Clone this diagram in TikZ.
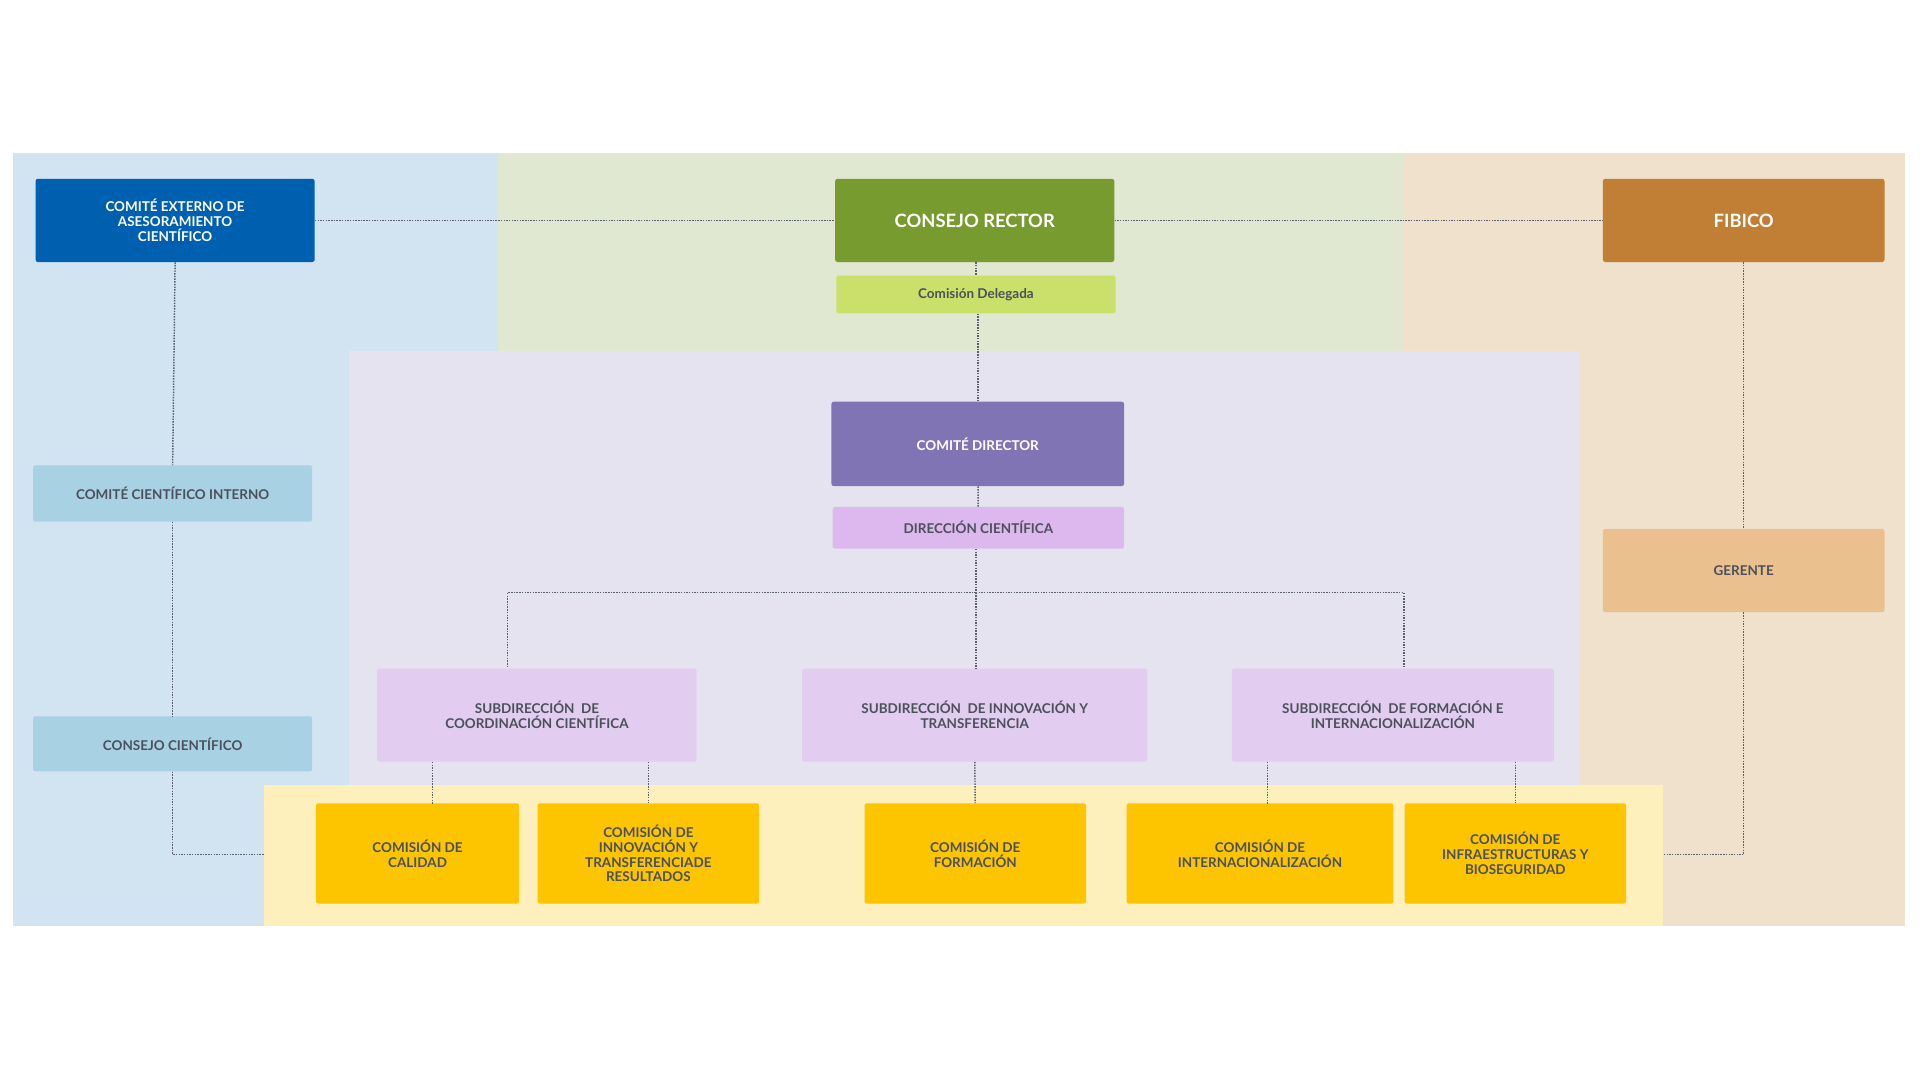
\documentclass[tikz,border=0pt]{standalone}
\usepackage{fontspec}
\setmainfont{Lato}
\definecolor{txtgray}{HTML}{4B505C}
\definecolor{lnk}{HTML}{5A6070}
\definecolor{bgblue}{HTML}{D2E3F1}
\definecolor{bggreen}{HTML}{E1E8D2}
\definecolor{bgbeige}{HTML}{F0E1CC}
\definecolor{bglav}{HTML}{E6E3F0}
\definecolor{bgyel}{HTML}{FDF0BD}
\definecolor{cblue}{HTML}{0060B0}
\definecolor{cgreen}{HTML}{779B2E}
\definecolor{clime}{HTML}{CBE06B}
\definecolor{cbrown}{HTML}{C17F36}
\definecolor{cpurple}{HTML}{8074B4}
\definecolor{cpink}{HTML}{DDB8EE}
\definecolor{clight}{HTML}{A8D2E4}
\definecolor{csand}{HTML}{E9C08E}
\definecolor{csub}{HTML}{E2CCF0}
\definecolor{cyel}{HTML}{FCC500}
\begin{document}
\begin{tikzpicture}[x=1pt,y=-1pt,text centered,
  box/.style={rounded corners=2pt,inner sep=0pt,align=center,font=\bfseries\fontsize{11}{12}\selectfont,text=txtgray},
  link/.style={draw=lnk,densely dotted,line width=1.2pt}]
  \useasboundingbox (0,0) rectangle (1568,882);
  \fill[white] (0,0) rectangle (1568,882);

  % background bands
  \fill[bgblue] (11,125) rectangle (407,287);
  \fill[bggreen] (407,125) rectangle (1146,287);
  \fill[bgbeige] (1146,125) rectangle (1556,287);
  \fill[bgblue] (11,287) rectangle (285,641);
  \fill[bglav] (285,287) rectangle (1290,641);
  \fill[bgbeige] (1290,287) rectangle (1556,641);
  \fill[bgblue] (11,641) rectangle (216,756);
  \fill[bgyel] (216,641) rectangle (1358,756);
  \fill[bgbeige] (1358,641) rectangle (1556,756);

  % top row
  \node (ceac) [box,fill=cblue,text=white,minimum width=228,minimum height=68] at (143,180) {COMITÉ EXTERNO DE\\ASESORAMIENTO\\CIENTÍFICO};
  \node (rector) [box,fill=cgreen,text=white,minimum width=228,minimum height=68,font=\bfseries\fontsize{15}{16}\selectfont] at (796,180) {CONSEJO RECTOR};
  \node (delegada) [box,fill=clime,minimum width=228,minimum height=31] at (797,240.5) {Comisión Delegada};
  \node (fibico) [box,fill=cbrown,text=white,minimum width=230,minimum height=68,font=\bfseries\fontsize{15}{16}\selectfont] at (1424,180) {FIBICO};

  % middle row
  \node (director) [box,fill=cpurple,text=white,minimum width=239,minimum height=69] at (798.5,362.5) {COMITÉ DIRECTOR};
  \node (direccion) [box,fill=cpink,minimum width=238,minimum height=34] at (799,431) {DIRECCIÓN CIENTÍFICA};
  \node (interno) [box,fill=clight,minimum width=228,minimum height=46] at (141,403) {COMITÉ CIENTÍFICO INTERNO};
  \node (consejo) [box,fill=clight,minimum width=228,minimum height=45] at (141,607.5) {CONSEJO CIENTÍFICO};
  \node (gerente) [box,fill=csand,minimum width=230,minimum height=68] at (1424,466) {GERENTE};
  \node (subcoord) [box,fill=csub,minimum width=261,minimum height=76] at (438.5,584) {SUBDIRECCIÓN\ \ DE\\COORDINACIÓN CIENTÍFICA};
  \node (subinnov) [box,fill=csub,minimum width=282,minimum height=76] at (796,584) {SUBDIRECCIÓN\ \ DE INNOVACIÓN Y\\TRANSFERENCIA};
  \node (subform) [box,fill=csub,minimum width=263,minimum height=76] at (1137.5,584) {SUBDIRECCIÓN\ \ DE FORMACIÓN E\\INTERNACIONALIZACIÓN};

  % commissions
  \node (calidad) [box,fill=cyel,minimum width=166,minimum height=82] at (341,697) {COMISIÓN DE\\CALIDAD};
  \node (innov) [box,fill=cyel,minimum width=181,minimum height=82] at (529.5,697) {COMISIÓN DE\\INNOVACIÓN Y\\TRANSFERENCIADE\\RESULTADOS};
  \node (formacion) [box,fill=cyel,minimum width=181,minimum height=82] at (796.5,697) {COMISIÓN DE\\FORMACIÓN};
  \node (internac) [box,fill=cyel,minimum width=218,minimum height=82] at (1029,697) {COMISIÓN DE\\INTERNACIONALIZACIÓN};
  \node (infra) [box,fill=cyel,minimum width=181,minimum height=82] at (1237.5,697) {COMISIÓN DE\\INFRAESTRUCTURAS Y\\BIOSEGURIDAD};

  \coordinate (leftend) at (216,698);
  \coordinate (rightend) at (1358,698);
  \coordinate (bus) at (797,484);

  % connectors
  \draw[link] (ceac) -- (rector);
  \draw[link] (rector) -- (fibico);
  \draw[link] (ceac.south) -- (interno.north);
  \draw[link] (interno) -- (consejo);
  \draw[link] (consejo.south) |- (leftend);
  \draw[link] (rector.south -| delegada.north) -- (delegada.north);
  \draw[link] (delegada.south -| director.north) -- (director.north);
  \draw[link] (director) -- (direccion);
  \draw[link] (direccion.south -| bus) -- (bus);
  \draw[link] (bus) -| ([xshift=-24pt]subcoord.north);
  \draw[link] (bus) -| ([xshift=9pt]subform.north);
  \draw[link] (bus) -- (bus |- subinnov.north);
  \draw[link] (subcoord.south -| calidad.north) ++(12,0) -- ++(0,34);
  \draw[link] (subcoord.south -| innov.north) -- (innov.north);
  \draw[link] (subinnov) -- (formacion);
  \draw[link] (subform.south -| internac.north) ++(6,0) -- ++(0,34);
  \draw[link] (subform.south -| infra.north) -- (infra.north);
  \draw[link] (fibico) -- (gerente);
  \draw[link] (gerente.south) |- (rightend);
\end{tikzpicture}
\end{document}
